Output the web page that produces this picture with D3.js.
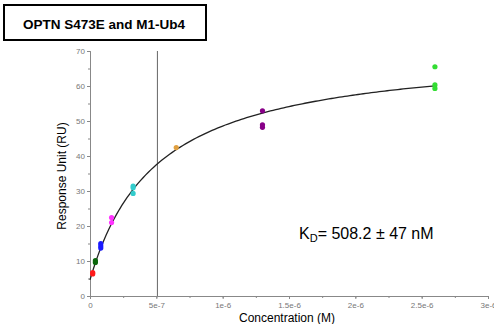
<!DOCTYPE html>
<html>
<head>
<meta charset="utf-8">
<script src="https://cdn.jsdelivr.net/npm/d3@7"></script>
<style>
  body { margin: 0; background: #fff; }
  text { font-family: Arial, "Liberation Sans", sans-serif; }
</style>
</head>
<body>
<svg id="chart" width="494" height="324"></svg>
<script>
// concentrations of the dilution series (M) and their colours
const concs = [2.03e-8, 4.06e-8, 8.125e-8, 1.625e-7, 3.25e-7, 6.5e-7, 1.3e-6, 2.6e-6]
const colors = ["#ff1a1a", "#0b660b", "#1a1aff", "#ff33ff", "#33cccc", "#e0a040", "#880088", "#33dd33"]
// replicate responses (RU) per concentration
const responses = [
  [6.3, 6.7],
  [9.6, 10.1],
  [15.0, 14.3, 13.7],
  [22.4, 21.0],
  [31.4, 30.9, 29.3],
  [42.4],
  [52.9, 48.9, 48.2],
  [65.5, 60.3, 59.3]
]
// fitted one-site model
const kd = 5.082e-7
const rmax = 66.3
const r0 = 4.6
const xTicks = [0, 5e-7, 1e-6, 1.5e-6, 2e-6, 2.5e-6, 3e-6]
const xTickLabels = ["0", "5e-7", "1e-6", "1.5e-6", "2e-6", "2.5e-6", "3e-6"]
const yTicks = [0, 10, 20, 30, 40, 50, 60, 70]

const svg = d3.select("#chart")
const x = d3.scaleLinear().domain([0, 3e-6]).range([90, 488])
const y = d3.scaleLinear().domain([0, 70]).range([296, 51])
const axisColor = "#888"

// minor ticks
const xMinor = d3.range(0, 3e-6 + 1e-9, 2.5e-7)
const yMinor = d3.range(0, 71, 5)

let gx = svg.append("g").attr("transform", "translate(0,296)")
gx.call(d3.axisBottom(x).tickValues(xMinor).tickSize(2).tickFormat(""))
gx.append("g").call(d3.axisBottom(x).tickValues(xTicks).tickSize(3)
    .tickFormat((d, i) => xTickLabels[i]))
gx.selectAll("path,line").attr("stroke", axisColor)
gx.selectAll("text").attr("fill", "#777").style("font-size", "8px")

let gy = svg.append("g").attr("transform", "translate(90,0)")
gy.call(d3.axisLeft(y).tickValues(yMinor).tickSize(2).tickFormat(""))
gy.append("g").call(d3.axisLeft(y).tickValues(yTicks).tickSize(3).tickFormat(d3.format("d")))
gy.selectAll("path,line").attr("stroke", axisColor)
gy.selectAll("text").attr("fill", "#777").style("font-size", "8px").attr("x", -5)

// KD line
svg.append("line")
  .attr("x1", x(kd)).attr("x2", x(kd))
  .attr("y1", y(70)).attr("y2", y(0))
  .attr("stroke", "#666").attr("stroke-width", 1)

// fit curve
const curve = d3.range(0, 2.6e-6 + 1e-10, 2e-8).map(c => [c, r0 + rmax * c / (kd + c)])
svg.append("path")
  .datum(curve)
  .attr("d", d3.line().x(d => x(d[0])).y(d => y(d[1])))
  .attr("fill", "none").attr("stroke", "#222").attr("stroke-width", 1.3)

// data points
let pts = []
concs.forEach((c, i) => responses[i].forEach(r => pts.push({ c: c, r: r, col: colors[i] })))
svg.selectAll("circle.pt").data(pts).enter().append("circle")
  .attr("class", "pt")
  .attr("cx", d => x(d.c)).attr("cy", d => y(d.r))
  .attr("r", 2.6).attr("fill", d => d.col)

// axis titles
svg.append("text")
  .attr("transform", "translate(66,176) rotate(-90)")
  .attr("text-anchor", "middle")
  .style("font-size", "12px")
  .text("Response Unit (RU)")
svg.append("text")
  .attr("x", 287).attr("y", 322)
  .attr("text-anchor", "middle")
  .style("font-size", "12px")
  .text("Concentration (M)")

// KD annotation
let kdText = svg.append("text").attr("x", 299).attr("y", 239).style("font-size", "16px")
kdText.append("tspan").text("K")
kdText.append("tspan").attr("dy", 3).style("font-size", "11px").text("D")
kdText.append("tspan").attr("dy", -3).text("= 508.2 \u00b1 47 nM")

// title box
svg.append("rect")
  .attr("x", 4).attr("y", 5).attr("width", 202).attr("height", 35)
  .attr("fill", "#fff").attr("stroke", "#000").attr("stroke-width", 2)
svg.append("text")
  .attr("x", 104).attr("y", 29)
  .attr("text-anchor", "middle")
  .style("font-size", "13.5px").style("font-weight", "bold")
  .text("OPTN S473E and M1-Ub4")
</script>
</body>
</html>
